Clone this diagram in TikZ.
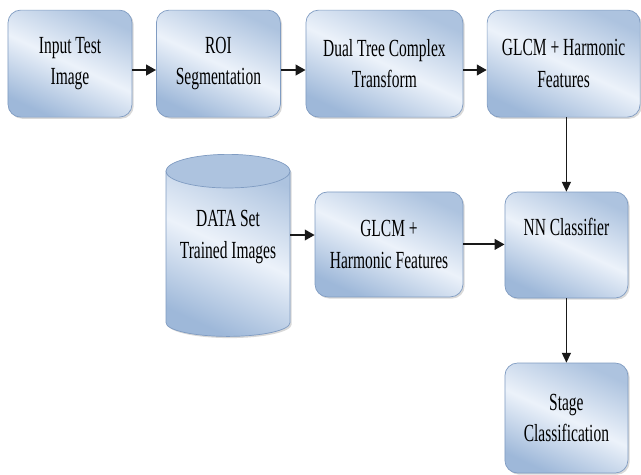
\documentclass[tikz,border=0pt]{standalone}
\usepackage{fontspec}
\setmainfont[FakeStretch=0.63]{Liberation Serif}
\usetikzlibrary{arrows.meta,shapes.geometric,shadows,calc}
\definecolor{boxLight}{RGB}{236,242,250}
\definecolor{boxDeep}{RGB}{158,184,217}
\definecolor{boxRim}{RGB}{128,156,194}
\definecolor{lineDark}{RGB}{25,25,25}

\begin{document}
\begin{tikzpicture}[x=1cm,y=1cm,
  procBox/.style={rectangle,rounded corners=9pt,draw=boxRim,line width=0.5pt,
    top color=boxDeep!85,bottom color=boxDeep,middle color=boxLight,shading angle=-25,
    drop shadow={shadow xshift=1.2pt,shadow yshift=-1.2pt,opacity=0.3},
    minimum width=3.1cm,minimum height=2.675cm,inner sep=2pt,align=center,
    font=\rmfamily\fontsize{17.5}{22.5}\selectfont},
  dataStore/.style={cylinder,shape border rotate=90,aspect=0.27,draw=boxRim,line width=0.5pt,
    top color=boxDeep!85,bottom color=boxDeep,middle color=boxLight,shading angle=-25,
    drop shadow={shadow xshift=1.2pt,shadow yshift=-1.2pt,opacity=0.3},
    minimum width=3.1cm,minimum height=4.475cm,inner sep=2pt,align=center,
    font=\rmfamily\fontsize{17.5}{22.5}\selectfont},
  flowArrow/.style={-{Triangle[length=7pt,width=7.5pt]},line width=1.4pt,draw=lineDark},
  thinArrow/.style={-{Triangle[length=7pt,width=6.5pt]},line width=0.7pt,draw=lineDark}]
\path[use as bounding box] (0,0) rectangle (16.025,-11.85);

% test image chain
\node[procBox] (inTest) at (1.75,-1.59) {Input Test\\Image};
\node[procBox] (roiSeg) at (5.46,-1.59) {ROI\\Segmentation};
\node[procBox,minimum width=3.925cm] (dtcTrans) at (9.61,-1.59) {Dual Tree Complex\\Transform};
\node[procBox,minimum width=3.825cm] (featTest) at (14.09,-1.59) {GLCM + Harmonic\\Features};

% training side and classifier
\node[dataStore,text height=0.45cm,text depth=0.33cm] (dataSet) at (5.70,-6.40) {DATA Set\\Trained Images};
\fill[boxDeep!85,draw=boxRim,line width=0.5pt] ($(dataSet.before top)!0.5!(dataSet.after top)$) ellipse [x radius=1.55cm,y radius=0.42cm];
\node[procBox,minimum width=3.7cm,minimum height=2.625cm] (featTrain) at (9.725,-6.11) {GLCM +\\Harmonic Features};
\node[procBox,minimum width=3.075cm,minimum height=2.65cm,text height=0.4cm,text depth=0.9cm] (nnClass) at (14.16,-6.125) {NN Classifier};
\node[procBox,minimum width=3.075cm,minimum height=2.75cm] (stageCls) at (14.16,-10.45) {Stage\\Classification};

\coordinate (dsOut) at (dataSet.east |- 0,-5.875);

\draw[flowArrow] ([yshift=-0.16cm]inTest.east) -- ([yshift=-0.16cm]roiSeg.west);
\draw[flowArrow] ([yshift=-0.16cm]roiSeg.east) -- ([yshift=-0.16cm]dtcTrans.west);
\draw[flowArrow] ([yshift=-0.16cm]dtcTrans.east) -- ([yshift=-0.16cm]featTest.west);
\draw[thinArrow] (featTest.south -| nnClass) -- (nnClass.north);
\draw[flowArrow] (dsOut) -- (dsOut -| featTrain.west);
\draw[flowArrow] (featTrain.east) -- (featTrain.east -| nnClass.west);
\draw[thinArrow] (nnClass.south) -- (stageCls.north);
\end{tikzpicture}
\end{document}
